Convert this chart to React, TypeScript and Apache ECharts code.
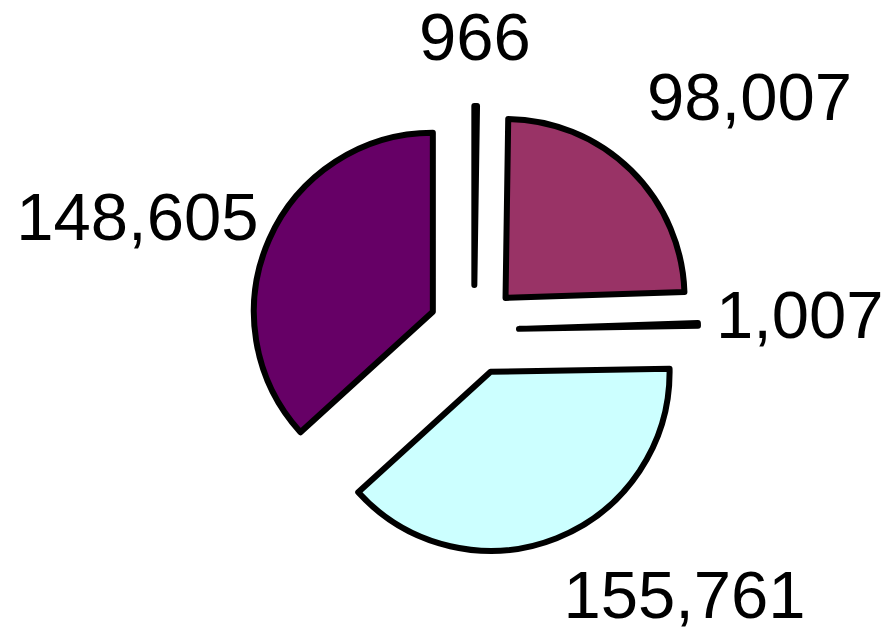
import React, { useEffect, useRef } from "react";
import * as echarts from "echarts";

const categories = ["Slice A", "Slice B", "Slice C", "Slice D", "Slice E"];
const values = [966, 98007, 1007, 155761, 148605];
const colors = ["#9999FF", "#993366", "#FFFFCC", "#CCFFFF", "#660066"];

// label nudges (layout styling, not data)
const labelShift: [number, number][] = [
  [-6, -30],
  [-17, -45],
  [-27, -9],
  [-13, 19],
  [31, -7],
];

export default function App() {
  const ref = useRef<HTMLDivElement>(null);
  useEffect(() => {
    if (!ref.current) return;
    const chart = echarts.init(ref.current, undefined, { renderer: "svg" });
    chart.setOption({
      animation: false,
      backgroundColor: "#ffffff",
      series: [
        {
          type: "pie",
          center: [474, 330],
          radius: 179,
          startAngle: 90,
          clockwise: true,
          selectedMode: "multiple",
          selectedOffset: 45,
          avoidLabelOverlap: false,
          emphasis: { disabled: true },
          itemStyle: { borderColor: "#000000", borderWidth: 6, borderJoin: "round", borderCap: "round" },
          select: { itemStyle: { borderColor: "#000000", borderWidth: 6 } },
          label: {
            show: true,
            position: "outside",
            fontSize: 67,
            lineHeight: 60,
            fontFamily: "Liberation Sans, Arial, sans-serif",
            color: "#000000",
            formatter: (p: any) => Number(p.value).toLocaleString("en-US"),
          },
          labelLine: { show: false, length: 40, length2: 0 },
          labelLayout: (p: any) => {
            const s = labelShift[p.dataIndex] || [0, 0];
            const o: any = { dx: s[0], dy: s[1] };
            if (p.dataIndex === 0) o.align = "center";
            return o;
          },
          data: values.map((v, i) => ({
            value: v,
            name: categories[i],
            selected: true,
            itemStyle: { color: colors[i] },
          })),
        },
      ],
    });
    return () => chart.dispose();
  }, []);
  return (
    <div
      ref={ref}
      style={{ position: "absolute", left: 0, top: 0, width: 888, height: 632 }}
    />
  );
}
